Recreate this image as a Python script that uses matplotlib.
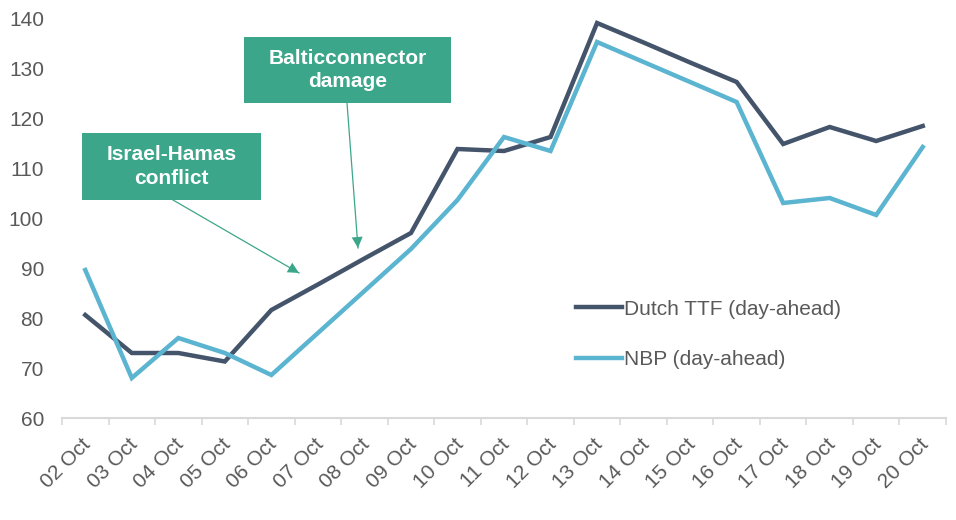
import matplotlib.pyplot as plt
from matplotlib.patches import Rectangle
from matplotlib.transforms import ScaledTranslation
import numpy as np

# Data (EUR/MWh)
dates = ['02 Oct', '03 Oct', '04 Oct', '05 Oct', '06 Oct', '07 Oct', '08 Oct',
         '09 Oct', '10 Oct', '11 Oct', '12 Oct', '13 Oct', '14 Oct', '15 Oct',
         '16 Oct', '17 Oct', '18 Oct', '19 Oct', '20 Oct']
ttf = [80.6, 73.0, 73.0, 71.3, 81.6, 86.7, 91.9, 97.0, 113.8, 113.4, 116.2,
       139.0, 135.1, 131.1, 127.2, 114.8, 118.2, 115.4, 118.4]
nbp = [89.6, 68.0, 76.0, 73.0, 68.6, 77.0, 85.4, 93.8, 103.6, 116.2, 113.4,
       135.2, 131.2, 127.2, 123.2, 103.0, 104.0, 100.6, 114.2]
series_names = ['Dutch TTF (day-ahead)', 'NBP (day-ahead)']
annotations = ['Israel-Hamas\nconflict', 'Balticconnector\ndamage']

plt.rcParams['font.family'] = ['Liberation Sans', 'DejaVu Sans']

W, H = 956, 520
fig = plt.figure(figsize=(W / 100, H / 100), dpi=100)
ax = fig.add_axes([62 / W, (H - 418) / H, (946 - 62) / W, (418 - 18) / H])

x = np.arange(len(dates))
ax.plot(x, ttf, color='#44546A', lw=3.2, label=series_names[0], solid_joinstyle='miter')
ax.plot(x, nbp, color='#5BB4D0', lw=3.2, label=series_names[1], solid_joinstyle='miter')

ax.set_xlim(-0.5, len(dates) - 0.5)
ax.set_ylim(60, 140)
ax.set_yticks(range(60, 141, 10))
ax.tick_params(axis='y', length=0, labelsize=15, labelcolor='#595959', pad=13)

ax.set_xticks(x)
ax.set_xticklabels(dates, rotation=45, ha='right', rotation_mode='anchor')
ax.tick_params(axis='x', which='major', length=0, labelsize=15, labelcolor='#595959', pad=12)
ax.set_xticks(np.arange(-0.5, len(dates)), minor=True)
ax.tick_params(axis='x', which='minor', length=5, color='#D9D9D9', width=1.2)
shift = ScaledTranslation(-4 / 100, 0, fig.dpi_scale_trans)
for lab in ax.get_xticklabels():
    lab.set_transform(lab.get_transform() + shift)

for s in ['top', 'right', 'left']:
    ax.spines[s].set_visible(False)
ax.spines['bottom'].set_color('#D9D9D9')
ax.spines['bottom'].set_linewidth(1.5)

leg = ax.legend(loc='upper left', bbox_to_anchor=(557 / W, (H - 281) / H),
                bbox_transform=fig.transFigure, frameon=False, fontsize=15,
                handlelength=2.2, handletextpad=0.1, labelspacing=1.5)
for t in leg.get_texts():
    t.set_color('#595959')

green = '#3BA68A'

def fig_box(x0, y0, x1, y1, text):
    # pixel coords, y measured from the top
    fig.patches.append(Rectangle((x0 / W, (H - y1) / H), (x1 - x0) / W, (y1 - y0) / H,
                                 transform=fig.transFigure, facecolor=green,
                                 edgecolor='none', zorder=3))
    fig.text((x0 + x1) / 2 / W, (H - (y0 + y1) / 2) / H, text, color='white',
             fontsize=15, fontweight='bold', ha='center', va='center',
             linespacing=1.3, zorder=4)

def fig_arrow(xs, ys, xe, ye):
    fig.add_artist(plt.Line2D([xs / W, xe / W], [(H - ys) / H, (H - ye) / H],
                              transform=fig.transFigure, color=green, lw=0.9))
    ang = np.arctan2(-(ye - ys), xe - xs)
    L, w = 11, 5.5
    d = np.array([np.cos(ang), np.sin(ang)])
    n = np.array([-d[1], d[0]])
    tip = np.array([xe, H - ye])
    base = tip - L * d
    pts = [tip, base + w * n, base - w * n]
    fig.add_artist(plt.Polygon([(p[0] / W, p[1] / H) for p in pts],
                               transform=fig.transFigure, facecolor=green,
                               edgecolor='none'))

fig_box(82, 133, 261, 200, annotations[0])
fig_box(244, 37, 451, 103, annotations[1])
fig_arrow(173, 200, 299, 273)
fig_arrow(347, 103, 358, 248)

fig.savefig('out.png', dpi=100, facecolor='white')
